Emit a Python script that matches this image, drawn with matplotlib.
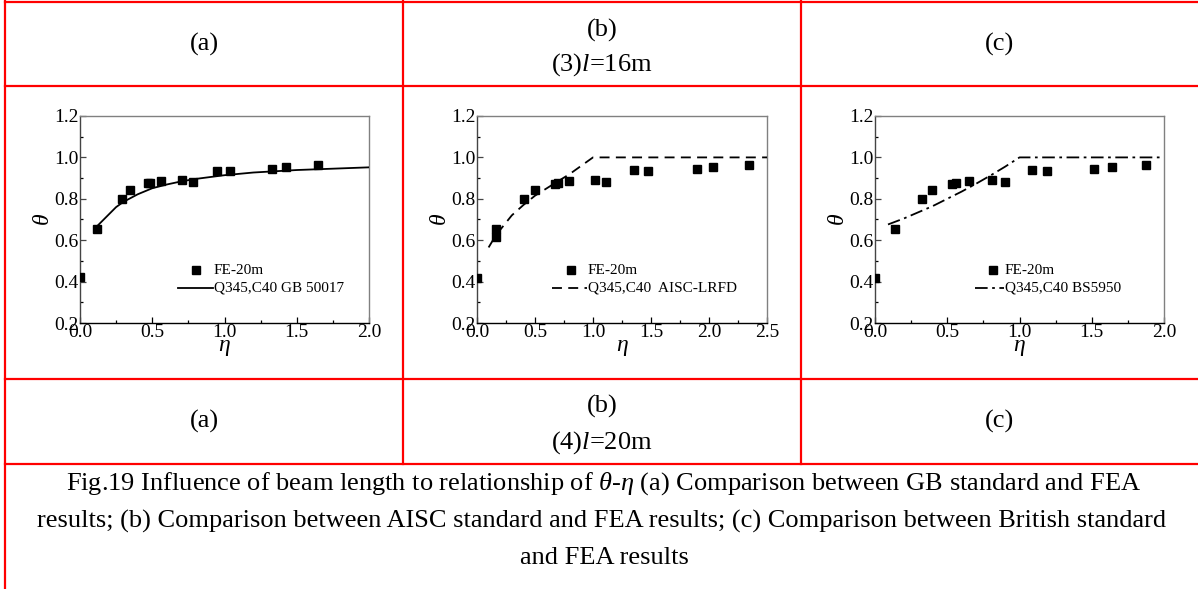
import matplotlib
matplotlib.use("Agg")
import matplotlib.pyplot as plt
from matplotlib.lines import Line2D
from matplotlib.ticker import MultipleLocator, FormatStrFormatter

plt.rcParams['font.family'] = ['Liberation Serif', 'DejaVu Serif']
plt.rcParams['mathtext.fontset'] = 'custom'
plt.rcParams['mathtext.rm'] = 'Liberation Serif'
plt.rcParams['mathtext.it'] = 'Liberation Serif:italic'

# ---------------- data ----------------
# (a) GB 50017
fe_a_eta = [0.0, 0.118, 0.288, 0.348, 0.468, 0.487, 0.558, 0.706, 0.78, 0.948, 1.036, 1.326, 1.426, 1.649]
fe_a_theta = [0.422, 0.653, 0.798, 0.841, 0.874, 0.875, 0.886, 0.893, 0.882, 0.936, 0.933, 0.943, 0.952, 0.962]
gb_eta = [0.1, 0.15, 0.2, 0.25, 0.3, 0.4, 0.5, 0.6, 0.7, 0.8, 1.0, 1.2, 1.5, 2.0]
gb_theta = [0.655, 0.69, 0.725, 0.76, 0.785, 0.822, 0.851, 0.869, 0.884, 0.896, 0.914, 0.927, 0.939, 0.952]

# (b) AISC-LRFD
fe_b_eta = [0.0, 0.164, 0.164, 0.406, 0.498, 0.671, 0.697, 0.795, 1.02, 1.115, 1.357, 1.478, 1.895, 2.036, 2.344]
fe_b_theta = [0.418, 0.652, 0.615, 0.797, 0.842, 0.873, 0.875, 0.886, 0.893, 0.882, 0.937, 0.934, 0.942, 0.953, 0.963]
aisc_eta = [0.1, 0.164, 0.3, 0.4, 0.5, 0.67, 0.8, 1.0, 2.5]
aisc_theta = [0.565, 0.625, 0.72, 0.77, 0.815, 0.875, 0.92, 1.0, 1.0]

# (c) BS5950
fe_c_eta = [0.0, 0.138, 0.328, 0.397, 0.535, 0.558, 0.648, 0.812, 0.897, 1.087, 1.188, 1.518, 1.638, 1.878]
fe_c_theta = [0.419, 0.652, 0.797, 0.841, 0.873, 0.874, 0.886, 0.892, 0.881, 0.937, 0.934, 0.942, 0.953, 0.963]
bs_eta = [0.09, 0.2, 0.3, 0.4, 0.5, 0.6, 0.7, 0.8, 0.9, 1.0, 2.0]
bs_theta = [0.676, 0.705, 0.735, 0.765, 0.80, 0.835, 0.873, 0.913, 0.955, 1.0, 1.0]

fe_label = "FE-20m"
line_labels = ["Q345,C40 GB 50017", "Q345,C40  AISC-LRFD", "Q345,C40 BS5950"]
xmax = [2.0, 2.5, 2.0]

W, H = 1198, 589
fig = plt.figure(figsize=(W / 100, H / 100), dpi=100)

def fx(x):
    return x / W

def fy(y):
    return 1 - y / H

# ---------------- table borders ----------------
red = '#ff0000'
lw_b = 1.6
for y in [2, 86, 379, 464]:
    fig.add_artist(Line2D([fx(5), fx(1198)], [fy(y), fy(y)], color=red, lw=lw_b, transform=fig.transFigure))
fig.add_artist(Line2D([fx(5), fx(5)], [fy(1), fy(589)], color=red, lw=lw_b, transform=fig.transFigure))
for x in [403, 801]:
    fig.add_artist(Line2D([fx(x), fx(x)], [fy(1), fy(464)], color=red, lw=lw_b, transform=fig.transFigure))

# ---------------- cell texts ----------------
fs_cell = 19
def ftext(x, y, s, **kw):
    fig.text(fx(x), fy(y), s, ha='center', va='center', fontsize=fs_cell, **kw)

ftext(204, 44, "(a)")
ftext(602, 30, "(b)")
ftext(602, 65, "(3)$l$=16m")
ftext(1000, 44, "(c)")
ftext(204, 421, "(a)")
ftext(602, 406, "(b)")
ftext(602, 443, "(4)$l$=20m")
ftext(1000, 421, "(c)")

ftext(604, 484, r"Fig.19 Influence of beam length to relationship of $\theta$-$\eta$ (a) Comparison between GB standard and FEA")
ftext(602, 521, "results; (b) Comparison between AISC standard and FEA results; (c) Comparison between British standard")
ftext(604, 558, "and FEA results")

# ---------------- axes ----------------
axes_px = [(80, 116, 369, 323), (477, 116, 767, 323), (875, 116, 1164, 323)]
fe_eta = [fe_a_eta, fe_b_eta, fe_c_eta]
fe_theta = [fe_a_theta, fe_b_theta, fe_c_theta]
std_eta = [gb_eta, aisc_eta, bs_eta]
std_theta = [gb_theta, aisc_theta, bs_theta]
styles = ['-', (0, (5.5, 3.5)), (0, (7, 2.5, 1.5, 2.5))]
# legend: (line start, line end, marker x) in figure px, row y's
leg = [(178, 213, 196), (552, 587, 571), (975, 1004, 993)]
leg_y = (270, 288)

for i in range(3):
    l, t, r, b = axes_px[i]
    ax = fig.add_axes([fx(l), fy(b), (r - l) / W, (b - t) / H])
    ax.set_xlim(0, xmax[i])
    ax.set_ylim(0.2, 1.2)
    ax.plot(std_eta[i], std_theta[i], color='black', lw=1.3, linestyle=styles[i], zorder=3)
    ax.plot(fe_eta[i], fe_theta[i], 's', color='black', markersize=5.5, zorder=4)
    ax.xaxis.set_major_locator(MultipleLocator(0.5))
    ax.xaxis.set_minor_locator(MultipleLocator(0.25))
    ax.yaxis.set_major_locator(MultipleLocator(0.2))
    ax.yaxis.set_minor_locator(MultipleLocator(0.1))
    ax.xaxis.set_major_formatter(FormatStrFormatter('%.1f'))
    ax.yaxis.set_major_formatter(FormatStrFormatter('%.1f'))
    ax.tick_params(which='both', direction='in', top=False, right=False, labelsize=14, pad=1.0)
    ax.tick_params(which='major', length=4, width=0.9)
    ax.tick_params(which='minor', length=2.5, width=0.9)
    ax.tick_params(axis='y', colors='#444444', labelcolor='black')
    ax.spines['bottom'].set_color('black')
    ax.spines['left'].set_color('#444444')
    ax.spines['top'].set_color('#808080')
    ax.spines['right'].set_color('#808080')
    for s in ax.spines.values():
        s.set_linewidth(1.0)
    ax.set_xlabel(r"$\eta$", fontsize=17, labelpad=-3.5)
    ax.set_ylabel(r"$\theta$", fontsize=17, labelpad=0)

    # legend drawn in figure pixel space
    x0, x1, xm = leg[i]
    fig.add_artist(Line2D([fx(xm)], [fy(leg_y[0])], marker='s', markersize=5.5, color='black',
                          linestyle='none', transform=fig.transFigure))
    fig.add_artist(Line2D([fx(x0), fx(x1)], [fy(leg_y[1]), fy(leg_y[1])], color='black', lw=1.3,
                          linestyle=styles[i], transform=fig.transFigure))
    fig.text(fx(x1 + 1), fy(leg_y[0]), fe_label, ha='left', va='center', fontsize=11)
    fig.text(fx(x1 + 1), fy(leg_y[1]), line_labels[i], ha='left', va='center', fontsize=11)

fig.savefig("out.png", dpi=100)
